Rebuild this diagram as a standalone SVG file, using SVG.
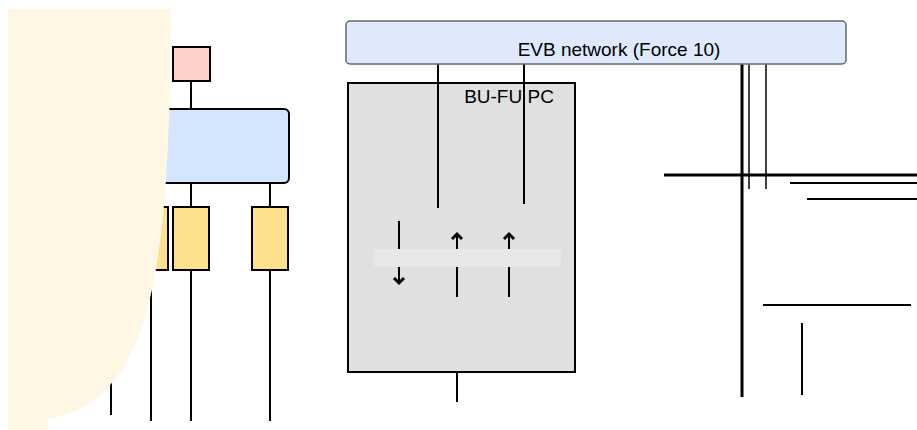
<svg xmlns="http://www.w3.org/2000/svg" width="917" height="430" viewBox="0 0 917 430">
<defs>
<style>
.ln{stroke:#000;stroke-width:2;fill:none}
.thin{stroke:#000;stroke-width:1.5;fill:none}
.thick{stroke:#000;stroke-width:3;fill:none}
.box{stroke:#000;stroke-width:2}
.yel{fill:#ffe08c;stroke:#000;stroke-width:2}
.txt{font-family:"Liberation Sans",Arial,sans-serif;font-size:19px;fill:#000}
</style>
<marker id="chev" markerUnits="userSpaceOnUse" markerWidth="14" markerHeight="14" viewBox="-7 -7 14 14" refX="0" refY="0" orient="auto">
<path d="M-5,-5 L0,0 L-5,5" fill="none" stroke="#000" stroke-width="3"/>
</marker>
</defs>
<rect width="917" height="430" fill="#fff"/>
<g id="connectors">
<line class="ln" x1="191" y1="81" x2="191" y2="109"/>
<line class="ln" x1="191" y1="183" x2="191" y2="207"/>
<line class="ln" x1="270" y1="183" x2="270" y2="207"/>
<line class="ln" x1="191" y1="270" x2="191" y2="421"/>
<line class="ln" x1="270" y1="270" x2="270" y2="421"/>
<line class="ln" x1="151" y1="270" x2="151" y2="421"/>
<line class="ln" x1="111" y1="270" x2="111" y2="415"/>
<line class="ln" x1="438" y1="64" x2="438" y2="208"/>
<line class="ln" x1="524" y1="64" x2="524" y2="204"/>
<line class="ln" x1="457" y1="372" x2="457" y2="402"/>
<line class="thick" x1="742" y1="64" x2="742" y2="397"/>
<line class="thin" x1="749" y1="64" x2="749" y2="189"/>
<line class="thin" x1="766" y1="64" x2="766" y2="189"/>
<line class="thick" x1="664" y1="175" x2="917" y2="175"/>
<line class="ln" x1="790" y1="183" x2="917" y2="183"/>
<line class="ln" x1="807" y1="199" x2="917" y2="199"/>
<line class="ln" x1="763" y1="305" x2="911" y2="305"/>
<line class="ln" x1="802" y1="323" x2="802" y2="395"/>
</g>
<g id="pink-node"><rect class="box" x="173" y="47" width="37" height="34" fill="#ffcfcc"/></g>
<g id="blue-node"><rect class="box" x="30" y="109" width="259" height="74" rx="5" fill="#d4e5fc"/></g>
<g id="yellow-1"><rect class="yel" x="93" y="207" width="36" height="63"/></g>
<g id="yellow-2"><rect class="yel" x="133" y="207" width="35" height="63"/></g>
<g id="yellow-3"><rect class="yel" x="173" y="207" width="36" height="63"/></g>
<g id="yellow-4"><rect class="yel" x="252" y="207" width="36" height="63"/></g>
<g id="cream-overlay"><path d="M8,9 L171,9 C170,280 150,400 48,419 L48,430 L8,430 Z" fill="#fff7e3"/></g>
<g id="evb-network">
<rect x="346" y="21" width="500" height="43" rx="4" fill="#deeafc" stroke="#666" stroke-width="1.5"/>
<text class="txt" x="619" y="56" text-anchor="middle">EVB network (Force 10)</text>
</g>
<g id="bu-fu-pc">
<rect class="box" x="348" y="83" width="227" height="289" fill="#e0e0e0"/>
<text class="txt" x="509" y="103" text-anchor="middle">BU-FU PC</text>
<line class="ln" x1="438" y1="83" x2="438" y2="208"/>
<line class="ln" x1="524" y1="83" x2="524" y2="204"/>
<line class="ln" x1="399" y1="221" x2="399" y2="283" marker-end="url(#chev)"/>
<line class="ln" x1="457" y1="297" x2="457" y2="234" marker-end="url(#chev)"/>
<line class="ln" x1="509" y1="297" x2="509" y2="234" marker-end="url(#chev)"/>
<rect x="374" y="249" width="187" height="18" fill="#e7e7e7"/>
</g>
</svg>
